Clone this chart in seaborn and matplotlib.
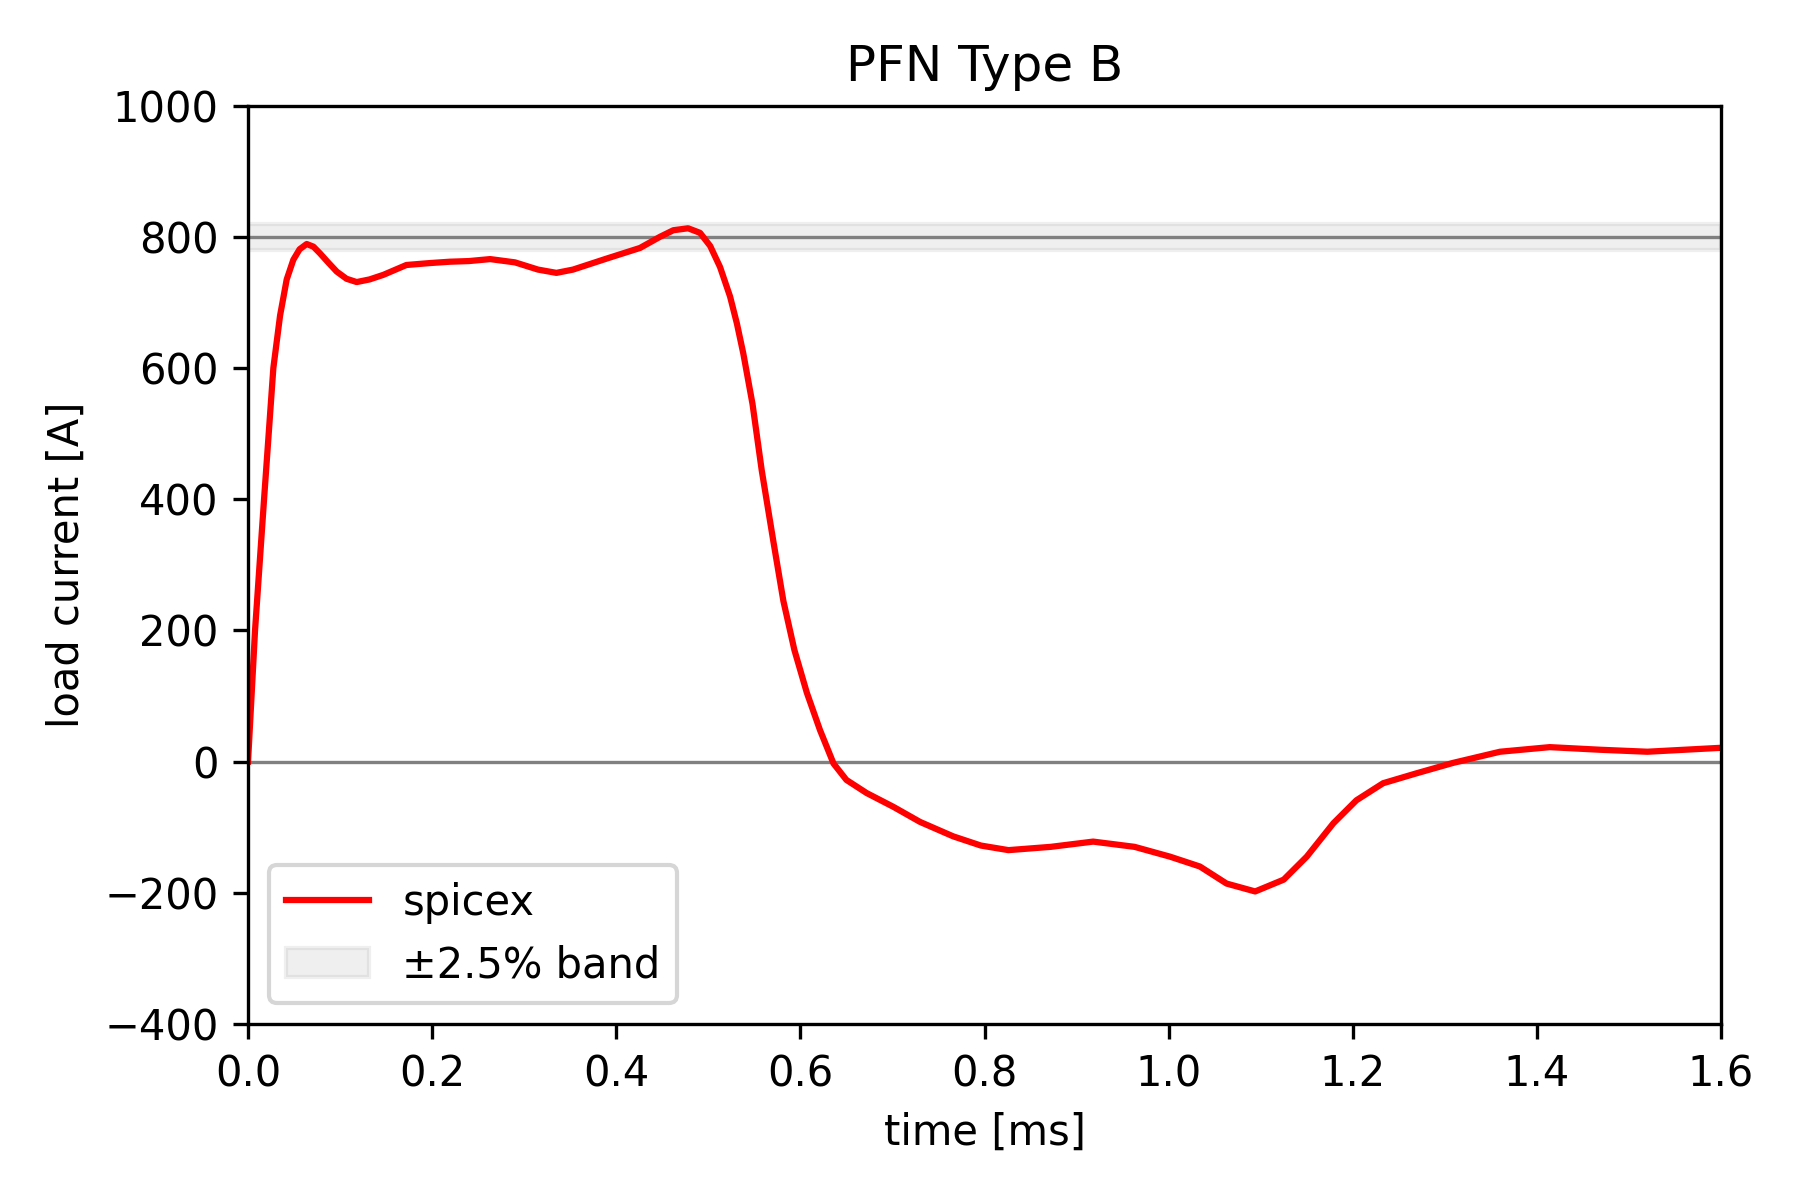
import numpy as np
import pandas as pd
import matplotlib
matplotlib.use('Agg')
import matplotlib.pyplot as plt
import seaborn as sns

# load current, time in ms, current in A
time_ms = [0.0, 0.0076, 0.0174, 0.0275, 0.0348, 0.042, 0.0492, 0.056, 0.0637, 0.071,
           0.078, 0.087, 0.0963, 0.107, 0.118, 0.132, 0.147, 0.172, 0.198, 0.219,
           0.24, 0.263, 0.29, 0.315, 0.335, 0.353, 0.39, 0.4258, 0.4475, 0.462,
           0.478, 0.491, 0.502, 0.5127, 0.5236, 0.531, 0.538, 0.548, 0.558, 0.5706,
           0.5815, 0.5935, 0.607, 0.6213, 0.636, 0.65, 0.672, 0.701, 0.73, 0.766,
           0.796, 0.826, 0.872, 0.918, 0.963, 1.0016, 1.034, 1.063, 1.094, 1.125,
           1.15, 1.179, 1.204, 1.233, 1.269, 1.309, 1.36, 1.414, 1.469, 1.52,
           1.6]
current_a = [0, 200, 400, 600, 680, 735, 765, 781, 789, 785,
             775, 761, 747, 736, 731, 735, 742, 757, 760, 762,
             763, 766, 761, 750, 745, 750, 767, 783, 800, 810,
             813, 806, 786, 754, 709, 668, 622, 545, 444, 336,
             245, 170, 105, 48, -3, -28, -48, -69, -92, -114,
             -128, -135, -130, -122, -130, -145, -160, -186, -198, -180,
             -145, -94, -59, -33, -18, -2, 15, 22, 18, 15,
             21]

target = 800
tol = 0.025

df = pd.DataFrame({'time [ms]': time_ms, 'load current [A]': current_a})

fig, ax = plt.subplots(figsize=(6, 4), dpi=300)

ax.axhspan(target * (1 - tol), target * (1 + tol), color='gray', alpha=0.12, label='±2.5% band')
ax.axhline(target, color='gray', lw=0.8)
ax.axhline(0, color='gray', lw=0.8)

sns.lineplot(data=df, x='time [ms]', y='load current [A]', color='red', lw=1.5,
             label='spicex', sort=False, ax=ax)

ax.set_xlim(0, 1.6)
ax.set_ylim(-400, 1000)
ax.set_xlabel('time [ms]')
ax.set_ylabel('load current [A]')
ax.set_title('PFN Type B')

# line first, band second
handles, labels = ax.get_legend_handles_labels()
order = [labels.index('spicex'), labels.index('±2.5% band')]
ax.legend([handles[i] for i in order], [labels[i] for i in order], loc='lower left')

plt.subplots_adjust(left=0.1378, right=0.9561, top=0.912, bottom=0.1467)
plt.savefig('out.png', dpi=300)
